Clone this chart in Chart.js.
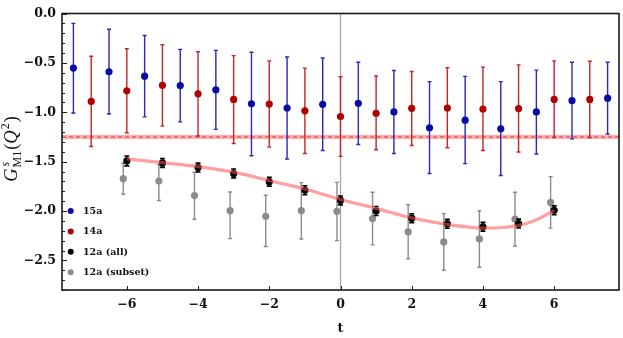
<!DOCTYPE html>
<html>
<head>
<meta charset="utf-8">
<script src="https://cdn.jsdelivr.net/npm/chart.js@4.4.0/dist/chart.umd.min.js"></script>
<style>
  html, body { margin: 0; padding: 0; background: #fff; }
  #contenedor { width: 623px; height: 338px; }
</style>
</head>
<body>
<div id="contenedor"><canvas id="grafico" width="623" height="338"></canvas></div>
<script>
// 1. Datos
const t15a = [-7.5, -6.5, -5.5, -4.5, -3.5, -2.5, -1.5, -0.5, 0.5, 1.5, 2.5, 3.5, 4.5, 5.5, 6.5, 7.5];
const valores15a = [-0.553, -0.59, -0.635, -0.73, -0.773, -0.915, -0.957, -0.92, -0.91, -0.997, -1.157, -1.08, -1.167, -0.997, -0.882, -0.857];
const sup15a = [-0.10, -0.16, -0.223, -0.363, -0.373, -0.393, -0.44, -0.45, -0.493, -0.577, -0.69, -0.637, -0.69, -0.573, -0.493, -0.493];
const inf15a = [-1.007, -1.017, -1.047, -1.097, -1.173, -1.44, -1.473, -1.387, -1.327, -1.417, -1.62, -1.52, -1.64, -1.423, -1.27, -1.22];

const t14a = [-7, -6, -5, -4, -3, -2, -1, 0, 1, 2, 3, 4, 5, 6, 7];
const valores14a = [-0.89, -0.783, -0.727, -0.813, -0.87, -0.917, -0.985, -1.043, -1.01, -0.96, -0.957, -0.967, -0.963, -0.87, -0.87];
const sup14a = [-0.433, -0.357, -0.317, -0.387, -0.427, -0.48, -0.553, -0.64, -0.633, -0.587, -0.55, -0.543, -0.52, -0.48, -0.483];
const inf14a = [-1.347, -1.207, -1.14, -1.24, -1.317, -1.353, -1.417, -1.447, -1.38, -1.337, -1.36, -1.387, -1.403, -1.257, -1.257];

const t12aTodos = [-6, -5, -4, -3, -2, -1, 0, 1, 2, 3, 4, 5, 6];
const valores12aTodos = [-1.493, -1.513, -1.56, -1.62, -1.703, -1.79, -1.893, -2.0, -2.073, -2.13, -2.16, -2.127, -1.993];
const sup12aTodos = [-1.443, -1.468, -1.515, -1.575, -1.658, -1.745, -1.848, -1.955, -2.028, -2.085, -2.115, -2.082, -1.948];
const inf12aTodos = [-1.543, -1.558, -1.605, -1.665, -1.748, -1.835, -1.938, -2.045, -2.118, -2.175, -2.205, -2.172, -2.038];

const t12aSubconjunto = [-6.1, -5.1, -4.1, -3.1, -2.1, -1.1, -0.1, 0.9, 1.9, 2.9, 3.9, 4.9, 5.9];
const valores12aSubconjunto = [-1.673, -1.697, -1.843, -1.997, -2.053, -1.997, -2.003, -2.077, -2.21, -2.313, -2.283, -2.083, -1.913];
const sup12aSubconjunto = [-1.517, -1.53, -1.607, -1.807, -1.84, -1.713, -1.71, -1.81, -1.937, -2.027, -1.997, -1.81, -1.653];
const inf12aSubconjunto = [-1.83, -1.893, -2.083, -2.28, -2.36, -2.283, -2.3, -2.343, -2.483, -2.6, -2.57, -2.357, -2.173];

// curva de ajuste
const tAjuste = [-6, -5, -4, -3, -2, -1, 0, 1, 2, 3, 4, 5, 5.5, 6];
const valoresAjuste = [-1.473, -1.51, -1.55, -1.607, -1.693, -1.777, -1.883, -1.973, -2.07, -2.137, -2.173, -2.147, -2.09, -1.993];

// banda horizontal
const bandaCentro = -1.25;
const bandaSemiancho = 0.022;

const ticksX = [-6, -4, -2, 0, 2, 4, 6];
const ticksY = [0, -0.5, -1.0, -1.5, -2.0, -2.5];
const etiquetasLeyenda = ['15a', '14a', '12a (all)', '12a (subset)'];

const aPuntos = (ts, vs) => ts.map((t, i) => ({ x: t, y: vs[i] }));

const AZUL = '#0a0aa8';
const ROJO = '#b00000';
const NEGRO = '#000000';
const GRIS = '#8c8c8c';
const coloresLeyenda = [AZUL, ROJO, NEGRO, GRIS];

// 2. Plugin: banda, línea t=0, barras de error, marco, ticks, leyenda y títulos
const pluginDecoracion = {
  id: 'decoracion',
  beforeDatasetsDraw(chart) {
    const { ctx, chartArea: a, scales: { x, y } } = chart;
    ctx.save();
    const yA = y.getPixelForValue(bandaCentro + bandaSemiancho);
    const yB = y.getPixelForValue(bandaCentro - bandaSemiancho);
    ctx.fillStyle = 'rgba(255,110,110,0.55)';
    ctx.fillRect(a.left, yA, a.right - a.left, yB - yA);
    const yc = y.getPixelForValue(bandaCentro);
    ctx.strokeStyle = '#e03a3a';
    ctx.lineWidth = 1;
    ctx.setLineDash([4, 3]);
    ctx.beginPath();
    ctx.moveTo(a.left, yc);
    ctx.lineTo(a.right, yc);
    ctx.stroke();
    ctx.setLineDash([]);

    const x0 = x.getPixelForValue(0);
    ctx.strokeStyle = '#a8a8a8';
    ctx.lineWidth = 1.3;
    ctx.beginPath();
    ctx.moveTo(x0, a.top);
    ctx.lineTo(x0, a.bottom);
    ctx.stroke();
    ctx.restore();
  },
  beforeDatasetDraw(chart, args) {
    const ds = chart.data.datasets[args.index];
    if (!ds.errSup) return;
    const { ctx, scales: { x, y } } = chart;
    const c = ds.anchoTapa;
    ctx.save();
    ctx.strokeStyle = ds.colorBarra;
    ctx.lineWidth = ds.grosorBarra;
    ds.data.forEach((p, i) => {
      const px = x.getPixelForValue(p.x);
      const ys = y.getPixelForValue(ds.errSup[i]);
      const yi = y.getPixelForValue(ds.errInf[i]);
      ctx.beginPath();
      ctx.moveTo(px, ys); ctx.lineTo(px, yi);
      ctx.moveTo(px - c, ys); ctx.lineTo(px + c, ys);
      ctx.moveTo(px - c, yi); ctx.lineTo(px + c, yi);
      ctx.stroke();
    });
    ctx.restore();
  },
  afterDraw(chart) {
    const { ctx, chartArea: a, scales: { x, y } } = chart;
    ctx.save();
    // marco
    ctx.strokeStyle = '#1a1a1a';
    ctx.lineWidth = 1.6;
    ctx.strokeRect(a.left, a.top, a.right - a.left, a.bottom - a.top);

    // ticks eje y (mayores y menores, hacia dentro)
    ctx.lineWidth = 1;
    ctx.beginPath();
    for (let k = 0; k <= 28; k++) {
      const v = -k / 10;
      const py = Math.round(y.getPixelForValue(v)) + 0.5;
      const largo = (k % 5 === 0) ? 5 : 3;
      ctx.moveTo(a.left, py);
      ctx.lineTo(a.left + largo, py);
    }
    ticksX.forEach(v => {
      const px = Math.round(x.getPixelForValue(v)) + 0.5;
      ctx.moveTo(px, a.bottom);
      ctx.lineTo(px, a.bottom - 4);
    });
    ctx.stroke();

    // leyenda
    ctx.font = 'bold 9.5px "DejaVu Serif"';
    ctx.textBaseline = 'middle';
    ctx.textAlign = 'left';
    etiquetasLeyenda.forEach((txt, i) => {
      const ly = 211 + i * 20.4;
      ctx.fillStyle = coloresLeyenda[i];
      ctx.beginPath();
      ctx.arc(a.left + 8.7, ly, 3, 0, Math.PI * 2);
      ctx.fill();
      ctx.fillStyle = '#111';
      ctx.fillText(txt, a.left + 21, ly + 0.5);
    });

    // título eje x
    ctx.font = 'bold 13px "DejaVu Serif"';
    ctx.textAlign = 'center';
    ctx.fillStyle = '#111';
    ctx.fillText('t', (a.left + a.right) / 2, 329);

    // título eje y: G^s_M1(Q^2)
    ctx.translate(11, 149);
    ctx.rotate(-Math.PI / 2);
    ctx.textAlign = 'left';
    ctx.textBaseline = 'alphabetic';
    const fGrande = 'italic 18.5px "Liberation Serif"';
    const fRecto = '18.5px "Liberation Serif"';
    const fPeqIt = 'italic 12px "Liberation Serif"';
    const fPeq = '12px "Liberation Serif"';
    const medir = (f, s) => { ctx.font = f; return ctx.measureText(s).width; };
    const wG = medir(fGrande, 'G');
    const wSub = Math.max(medir(fPeq, 'M1'), medir(fPeqIt, 's'));
    const wPar = medir(fRecto, '(');
    const wQ = medir(fGrande, 'Q');
    const w2 = medir(fPeq, '2');
    const total = wG + 1 + wSub + 1 + wPar + wQ + 1 + w2 + 1 + wPar;
    let cx = -total / 2;
    const base = 6;
    ctx.fillStyle = '#111';
    ctx.font = fGrande; ctx.fillText('G', cx, base); cx += wG + 1;
    ctx.font = fPeqIt; ctx.fillText('s', cx + 1, base - 8.5);
    ctx.font = fPeq; ctx.fillText('M1', cx, base + 4); cx += wSub + 1;
    ctx.font = fRecto; ctx.fillText('(', cx, base); cx += wPar;
    ctx.font = fGrande; ctx.fillText('Q', cx, base); cx += wQ + 1;
    ctx.font = fPeq; ctx.fillText('2', cx, base - 8.5); cx += w2 + 1;
    ctx.font = fRecto; ctx.fillText(')', cx, base);
    ctx.restore();
  }
};

// 3. Construcción del gráfico
const ctxGrafico = document.getElementById('grafico');
new Chart(ctxGrafico, {
  type: 'scatter',
  data: {
    datasets: [
      {
        type: 'line',
        data: aPuntos(tAjuste, valoresAjuste),
        borderColor: 'rgba(255,80,80,0.55)',
        borderWidth: 3.2,
        pointRadius: 0,
        showLine: true,
        fill: false,
        cubicInterpolationMode: 'monotone'
      },
      {
        data: aPuntos(t12aTodos, valores12aTodos),
        backgroundColor: NEGRO, pointRadius: 3.6, borderWidth: 0,
        errSup: sup12aTodos, errInf: inf12aTodos,
        colorBarra: NEGRO, grosorBarra: 1.6, anchoTapa: 2.5
      },
      {
        data: aPuntos(t14a, valores14a),
        backgroundColor: ROJO, pointRadius: 3.6, borderWidth: 0,
        errSup: sup14a, errInf: inf14a,
        colorBarra: '#c02828', grosorBarra: 1.4, anchoTapa: 2
      },
      {
        data: aPuntos(t15a, valores15a),
        backgroundColor: AZUL, pointRadius: 3.6, borderWidth: 0,
        errSup: sup15a, errInf: inf15a,
        colorBarra: '#2a2ab8', grosorBarra: 1.4, anchoTapa: 2
      },
      {
        data: aPuntos(t12aSubconjunto, valores12aSubconjunto),
        backgroundColor: GRIS, pointRadius: 3.6, borderWidth: 0,
        errSup: sup12aSubconjunto, errInf: inf12aSubconjunto,
        colorBarra: '#8c8c8c', grosorBarra: 1.4, anchoTapa: 2
      }
    ]
  },
  options: {
    responsive: false,
    animation: false,
    devicePixelRatio: 1,
    layout: { padding: { top: 10, right: 1, left: 0, bottom: 0 } },
    plugins: { legend: { display: false }, tooltip: { enabled: false } },
    scales: {
      x: {
        type: 'linear',
        min: -7.82,
        max: 7.82,
        afterBuildTicks: s => { s.ticks = ticksX.map(v => ({ value: v })); },
        afterFit: s => { s.height = 48; },
        grid: { display: false, drawTicks: false, tickLength: 0 },
        border: { display: false },
        ticks: {
          padding: 7,
          color: '#111',
          font: { family: 'DejaVu Serif', weight: 'bold', size: 12.5 },
          callback: v => String(v).replace('-', '\u2212')
        }
      },
      y: {
        min: -2.8,
        max: 0,
        afterBuildTicks: s => { s.ticks = ticksY.map(v => ({ value: v })); },
        afterFit: s => { s.width = 62; },
        grid: { display: false, drawTicks: false, tickLength: 0 },
        border: { display: false },
        ticks: {
          padding: 6,
          color: '#111',
          font: { family: 'DejaVu Serif', weight: 'bold', size: 12.5 },
          callback: v => v.toFixed(1).replace('-', '\u2212')
        }
      }
    }
  },
  plugins: [pluginDecoracion]
});
</script>
</body>
</html>
